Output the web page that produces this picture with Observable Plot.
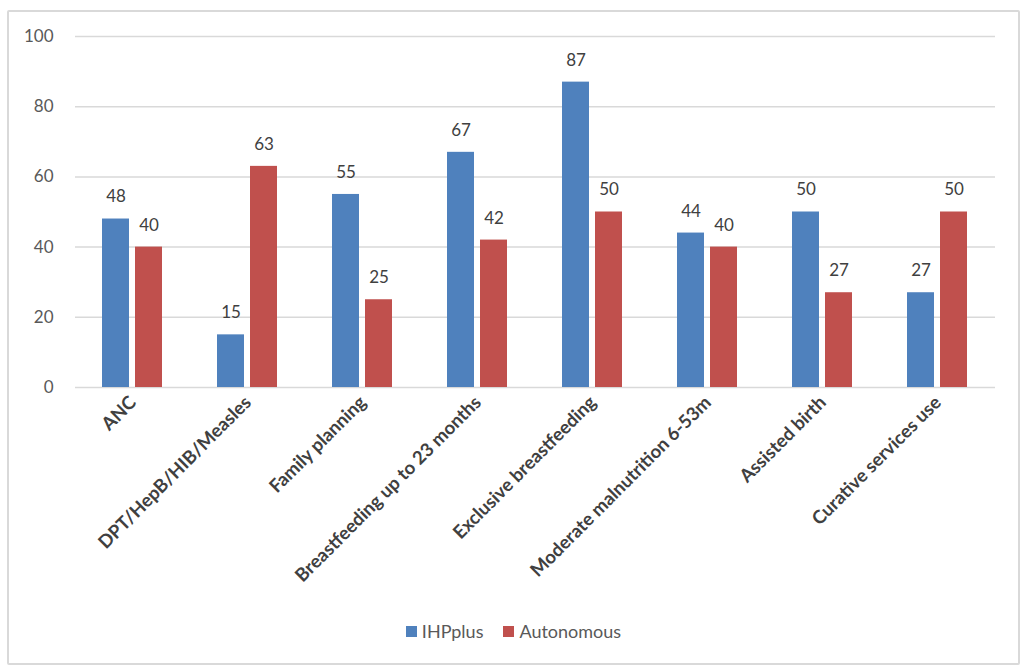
<!DOCTYPE html>
<html>
<head>
<meta charset="utf-8">
<script src="https://cdn.jsdelivr.net/npm/d3@7"></script>
<script src="https://cdn.jsdelivr.net/npm/@observablehq/plot@0.6"></script>
<style>
  html, body { margin: 0; padding: 0; background: #fff; }
  body { width: 1024px; height: 670px; position: relative; overflow: hidden; font-family: Lato, "Open Sans", sans-serif; }
  #frame { position: absolute; left: 7px; top: 10px; width: 1009px; height: 651px; border: 2px solid #d9d9d9; border-radius: 2px; }
  #chart { position: absolute; left: 0; top: 0; }
  #legend { position: absolute; left: 0; width: 1009px; top: 608px; text-align: center; font-size: 18px; color: #595959; }
  #legend span.item { display: inline-block; margin: 0 10px; }
  #legend span.sw { display: inline-block; width: 11px; height: 11px; margin-right: 5px; vertical-align: 1px; }
</style>
</head>
<body>
<div id="frame">
  <div id="chart"></div>
  <div id="legend"></div>
</div>
<script>
const categories = ["ANC", "DPT/HepB/HIB/Measles", "Family planning", "Breastfeeding up to 23 months", "Exclusive breastfeeding", "Moderate malnutrition 6-53m", "Assisted birth", "Curative services use"];
const seriesNames = ["IHPplus", "Autonomous"];
const ihpplus = [48, 15, 55, 67, 87, 44, 50, 27];
const autonomous = [40, 63, 25, 42, 50, 40, 27, 50];
const yTicks = [0, 20, 40, 60, 80, 100];
const colors = ["#4F81BD", "#C0504D"];

const data = [];
categories.forEach((c, i) => {
  data.push({category: c, series: seriesNames[0], value: ihpplus[i]});
  data.push({category: c, series: seriesNames[1], value: autonomous[i]});
});

const chart = Plot.plot({
  width: 1009,
  height: 600,
  marginLeft: 65,
  marginRight: 22,
  marginTop: 24,
  marginBottom: 225,
  style: {fontFamily: "Lato, 'Open Sans', sans-serif", background: "transparent"},
  fx: {domain: categories, padding: 0, label: null},
  x: {domain: seriesNames, paddingInner: 0.18, paddingOuter: 0.83, axis: null},
  y: {domain: [0, 100], ticks: yTicks, label: null},
  color: {domain: seriesNames, range: colors},
  marks: [
    Plot.ruleY(yTicks, {stroke: "#d9d9d9", strokeWidth: 1.5}),
    Plot.axisY({ticks: yTicks, tickSize: 0, tickPadding: 22, label: null, fontSize: 17, color: "#595959"}),
    Plot.axisFx({anchor: "bottom", tickRotate: -45, tickSize: 0, tickPadding: 12, label: null, fontSize: 18.5, fontWeight: "bold", color: "#404040"}),
    Plot.barY(data, {fx: "category", x: "series", y: "value", fill: "series"}),
    Plot.text(data, {fx: "category", x: "series", y: "value", text: d => String(d.value), dy: -22, fontSize: 17, fill: "#404040"})
  ]
});
document.getElementById("chart").appendChild(chart);

const legend = document.getElementById("legend");
seriesNames.forEach((s, i) => {
  const item = document.createElement("span");
  item.className = "item";
  const sw = document.createElement("span");
  sw.className = "sw";
  sw.style.background = colors[i];
  item.appendChild(sw);
  item.appendChild(document.createTextNode(s));
  legend.appendChild(item);
});
</script>
</body>
</html>
